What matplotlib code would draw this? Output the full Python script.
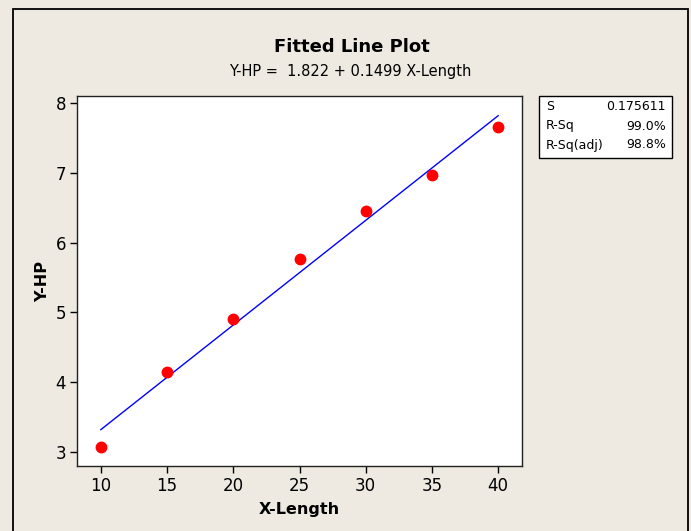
import numpy as np
import matplotlib.pyplot as plt
from matplotlib.patches import Rectangle

# datos
x_length = [10, 15, 20, 25, 30, 35, 40]
y_hp = [3.07, 4.14, 4.90, 5.76, 6.45, 6.97, 7.66]
intercept = 1.822
slope = 0.1499
stat_names = ["S", "R-Sq", "R-Sq(adj)"]
stat_values = ["0.175611", "99.0%", "98.8%"]

bg = "#EEEAE1"
W, H = 691, 531

fig = plt.figure(figsize=(W / 100, H / 100), dpi=100, facecolor=bg)

# marco exterior
fig.patches.append(Rectangle((13 / W, -0.01), (688 - 13) / W, (H - 9) / H + 0.01,
                             transform=fig.transFigure, fill=False, ec="black", lw=1.3))

ax = fig.add_axes([77 / W, (H - 466) / H, (522 - 77) / W, (466 - 96) / H])
ax.set_facecolor("white")

xs = np.linspace(min(x_length), max(x_length), 50)
ax.plot(xs, intercept + slope * xs, color="blue", lw=1)
ax.plot(x_length, y_hp, "o", color="red", ms=7.5, mec="red")

ax.set_xlim(8.2, 41.8)
ax.set_ylim(2.80, 8.10)
ax.set_xticks([10, 15, 20, 25, 30, 35, 40])
ax.set_yticks([3, 4, 5, 6, 7, 8])
ax.tick_params(direction="out", length=5, width=1, labelsize=12, pad=3)
for s in ax.spines.values():
    s.set_linewidth(1)
    s.set_color("#222222")

ax.set_xlabel("X-Length", fontsize=11.5, fontweight="bold", labelpad=5)
ax.set_ylabel("Y-HP", fontsize=11.5, fontweight="bold", labelpad=4)

fig.text(352 / W, 1 - 47 / H, "Fitted Line Plot", ha="center", va="center",
         fontsize=13, fontweight="bold")
fig.text(350 / W, 1 - 71 / H, "Y-HP =  1.822 + 0.1499 X-Length", ha="center",
         va="center", fontsize=10.5)

# cuadro de estadisticos
fig.patches.append(Rectangle((539 / W, 1 - 158 / H), (672 - 539) / W, (158 - 96) / H,
                             transform=fig.transFigure, fc="white", ec="black", lw=1))
for i, (n, v) in enumerate(zip(stat_names, stat_values)):
    yy = 1 - (107 + 19 * i) / H
    fig.text(546 / W, yy, n, ha="left", va="center", fontsize=9)
    fig.text(666 / W, yy, v, ha="right", va="center", fontsize=9)

fig.savefig("out.png", dpi=100, facecolor=bg)
